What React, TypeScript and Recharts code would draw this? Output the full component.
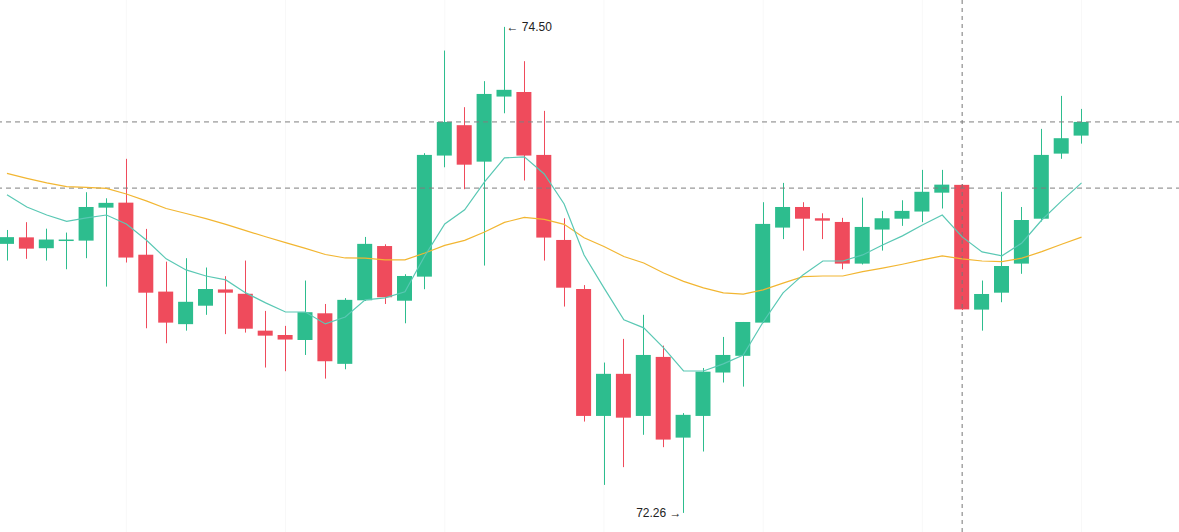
import React from "react";
import {
  ComposedChart, Bar, Line, XAxis, YAxis, CartesianGrid, ReferenceLine,
} from "recharts";

// OHLC per session
const opens = [
  73.50, 73.53, 73.48, 73.515, 73.515, 73.667, 73.69, 73.45, 73.28, 73.13,
  73.215, 73.29, 73.27, 73.10, 73.08, 73.057, 73.18, 72.947, 73.24, 73.49,
  73.238, 73.349, 73.907, 74.047, 73.879, 74.179, 74.20, 73.91, 73.518, 73.292,
  72.707, 72.901, 72.707, 72.979, 72.607, 72.707, 72.907, 72.984, 73.137, 73.575,
  73.67, 73.618, 73.601, 73.409, 73.566, 73.616, 73.649, 73.736, 73.772, 73.197,
  73.275, 73.409, 73.616, 73.916, 73.999,
];
const highs = [
  73.564, 73.60, 73.57, 73.552, 73.738, 73.71, 73.892, 73.569, 73.418, 73.434,
  73.391, 73.351, 73.423, 73.191, 73.122, 73.331, 73.223, 73.25, 73.532, 73.498,
  73.36, 73.918, 74.391, 74.13, 74.25, 74.50, 74.342, 74.113, 73.618, 73.31,
  72.953, 73.062, 73.173, 73.031, 72.72, 72.928, 73.071, 73.14, 73.692, 73.781,
  73.692, 73.641, 73.62, 73.713, 73.652, 73.701, 73.841, 73.841, 73.775, 73.331,
  73.74, 73.67, 74.03, 74.182, 74.122,
];
const lows = [
  73.423, 73.431, 73.423, 73.383, 73.434, 73.303, 73.414, 73.111, 73.042, 73.10,
  73.173, 73.084, 73.091, 72.93, 72.913, 72.988, 72.879, 72.922, 73.237, 73.223,
  73.134, 73.291, 73.853, 73.752, 73.40, 74.102, 73.792, 73.423, 73.211, 72.681,
  72.389, 72.471, 72.62, 72.563, 72.26, 72.543, 72.861, 72.842, 73.135, 73.522,
  73.469, 73.522, 73.383, 73.405, 73.469, 73.583, 73.60, 73.663, 73.195, 73.10,
  73.231, 73.362, 73.603, 73.892, 73.962,
];
const closes = [
  73.531, 73.478, 73.52, 73.52, 73.67, 73.689, 73.437, 73.275, 73.137, 73.233,
  73.292, 73.275, 73.109, 73.077, 73.059, 73.185, 72.959, 73.242, 73.50, 73.254,
  73.352, 73.91, 74.062, 73.865, 74.191, 74.21, 73.907, 73.529, 73.298, 72.707,
  72.901, 72.699, 72.988, 72.598, 72.712, 72.911, 72.988, 73.14, 73.592, 73.67,
  73.616, 73.607, 73.409, 73.578, 73.618, 73.652, 73.74, 73.773, 73.198, 73.269,
  73.398, 73.61, 73.91, 73.987, 74.062,
];

// moving averages (short teal, long gold)
const ma5 = [
  73.726, 73.670, 73.633, 73.604, 73.620, 73.633, 73.592, 73.518, 73.431, 73.380,
  73.352, 73.334, 73.274, 73.228, 73.186, 73.186, 73.131, 73.163, 73.242, 73.251,
  73.279, 73.445, 73.592, 73.657, 73.786, 73.896, 73.901, 73.822, 73.684, 73.449,
  73.297, 73.150, 73.113, 73.021, 72.914, 72.914, 72.947, 72.988, 73.140, 73.274,
  73.357, 73.421, 73.421, 73.449, 73.495, 73.537, 73.587, 73.633, 73.532, 73.463,
  73.445, 73.504, 73.610, 73.698, 73.781,
];
const ma20 = [
  73.825, 73.802, 73.781, 73.764, 73.760, 73.756, 73.730, 73.698, 73.663, 73.640,
  73.616, 73.590, 73.561, 73.533, 73.506, 73.479, 73.451, 73.435, 73.434, 73.426,
  73.426, 73.458, 73.493, 73.516, 73.555, 73.599, 73.622, 73.613, 73.590, 73.528,
  73.488, 73.442, 73.412, 73.366, 73.327, 73.297, 73.274, 73.268, 73.288, 73.319,
  73.349, 73.352, 73.352, 73.372, 73.388, 73.406, 73.426, 73.445, 73.431, 73.421,
  73.418, 73.434, 73.464, 73.498, 73.531,
];

const priceLevels = [74.062, 73.757];
const markerIndex = 48;
const emptySlots = 5;
const gridTicks = [6, 14, 22, 30, 38, 46, 54];

const UP = "#2dbd8e";
const DOWN = "#ef4b5c";
const FONT = "'Liberation Sans', Arial, sans-serif";

const rows = Array.from({ length: opens.length + emptySlots }, (_, i) =>
  i < opens.length
    ? {
        i,
        open: opens[i], high: highs[i], low: lows[i], close: closes[i],
        range: [lows[i], highs[i]],
        ma5: ma5[i], ma20: ma20[i],
      }
    : { i }
);

const maxHigh = Math.max(...highs);
const minLow = Math.min(...lows);

function Candle(props: any) {
  const { x, y, width, height, payload } = props;
  if (!payload || payload.open == null) return null;
  const { open, high, low, close } = payload;
  const top = Math.min(y, y + height);
  const bot = Math.max(y, y + height);
  const k = (bot - top) / (high - low || 1);
  const color = close >= open ? UP : DOWN;
  const bodyTop = top + (high - Math.max(open, close)) * k;
  const bodyH = Math.max(1.5, Math.abs(open - close) * k);
  const cx = Math.round(x + width / 2) + 0.5;
  return (
    <g>
      <line x1={cx} x2={cx} y1={top} y2={bot} stroke={color} strokeWidth={1} />
      <rect x={x} y={bodyTop} width={width} height={bodyH} fill={color} />
      {high === maxHigh && (
        <text x={cx + 2} y={top} dy="0.35em" fontSize={12} fill="#222" fontFamily={FONT}>
          {"\u2190 " + high.toFixed(2)}
        </text>
      )}
      {low === minLow && (
        <text x={cx - 2} y={bot} dy="0.35em" fontSize={12} fill="#222" fontFamily={FONT} textAnchor="end">
          {low.toFixed(2) + " \u2192"}
        </text>
      )}
    </g>
  );
}

export default function App() {
  return (
    <div style={{ position: "absolute", left: 0, top: 0, width: 1179, height: 532, overflow: "hidden", background: "#fff" }}>
      <div style={{ marginLeft: -3 }}>
        <ComposedChart width={1194} height={532} data={rows} margin={{ top: 0, right: 0, bottom: 0, left: 0 }}>
          <CartesianGrid stroke="#f8f8f8" horizontal={false} />
          <XAxis dataKey="i" hide ticks={gridTicks} />
          <YAxis hide domain={[72.172, 74.624]} allowDataOverflow />
          {priceLevels.map((p) => (
            <ReferenceLine key={p} y={p} stroke="#7f7f7f" strokeDasharray="5 4" />
          ))}
          <ReferenceLine x={markerIndex} stroke="#777" strokeDasharray="4 4" />
          <Line dataKey="ma20" stroke="#f2b632" strokeWidth={1.2} dot={false} activeDot={false} isAnimationActive={false} />
          <Bar dataKey="range" barSize={15} isAnimationActive={false} shape={(p: any) => <Candle {...p} />} />
          <Line dataKey="ma5" stroke="#5ac8b4" strokeWidth={1.2} dot={false} activeDot={false} isAnimationActive={false} />
        </ComposedChart>
      </div>
    </div>
  );
}
